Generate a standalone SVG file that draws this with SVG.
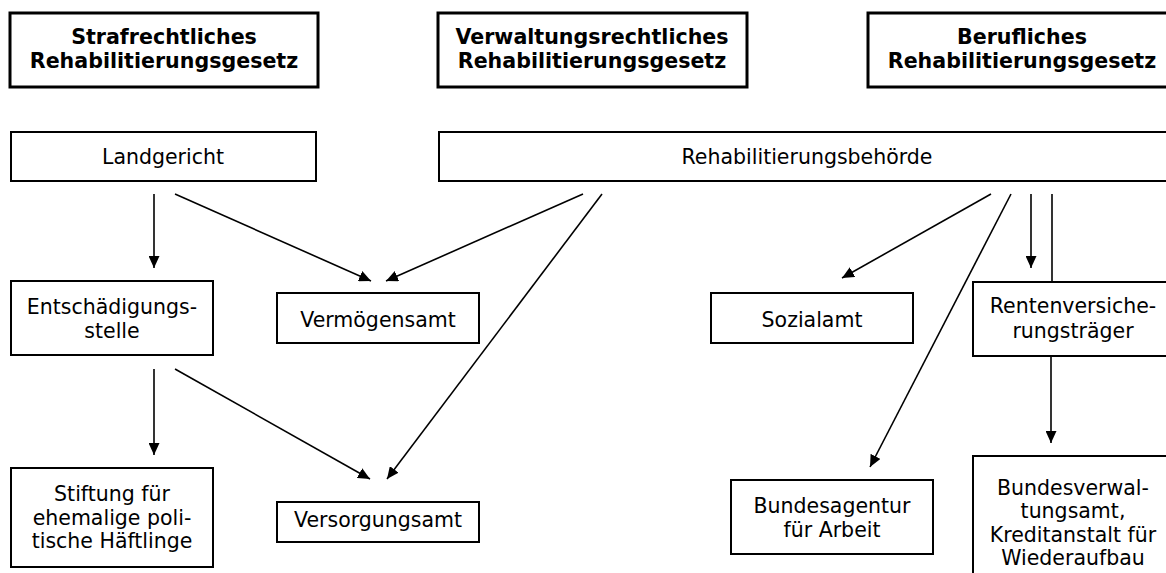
<svg xmlns="http://www.w3.org/2000/svg" width="1166" height="573" viewBox="0 0 1166 573">
<defs>
<marker id="ah" markerUnits="userSpaceOnUse" markerWidth="12" markerHeight="11" refX="12" refY="5.5" orient="auto">
<path d="M0,0 L12,5.5 L0,11 Z" fill="#000"/>
</marker>
<style>
.hb{fill:#fff;stroke:#000;stroke-width:3}
.nb{fill:#fff;stroke:#000;stroke-width:2}
.ht{font-family:"DejaVu Sans","Verdana",sans-serif;font-weight:bold;font-size:20.6px;text-anchor:middle;fill:#000}
.t{font-family:"DejaVu Sans","Verdana",sans-serif;font-size:20.5px;text-anchor:middle;fill:#000}
.c{stroke:#000;stroke-width:1.6;fill:none}
.a{marker-end:url(#ah)}
</style>
</defs>
<rect width="1166" height="573" fill="#fff"/>
<g id="h1"><rect class="hb" x="10" y="13" width="308" height="74"/><text class="ht" x="164" y="44">Strafrechtliches</text><text class="ht" x="164" y="68">Rehabilitierungsgesetz</text></g>
<g id="h2"><rect class="hb" x="438" y="13" width="309" height="74"/><text class="ht" x="592" y="44">Verwaltungsrechtliches</text><text class="ht" x="592" y="68">Rehabilitierungsgesetz</text></g>
<g id="h3"><rect class="hb" x="868" y="13" width="308" height="74"/><text class="ht" x="1022" y="44">Berufliches</text><text class="ht" x="1022" y="68">Rehabilitierungsgesetz</text></g>
<g id="landgericht"><rect class="nb" x="11" y="132" width="305" height="49"/><text class="t" x="163" y="164">Landgericht</text></g>
<g id="rehabehoerde"><rect class="nb" x="439" y="132" width="737" height="49"/><text class="t" x="807" y="164">Rehabilitierungsbehörde</text></g>
<g id="entschaedigung"><rect class="nb" x="11" y="281" width="202" height="74"/><text class="t" x="112" y="314">Entschädigungs-</text><text class="t" x="112" y="338">stelle</text></g>
<g id="vermoegensamt"><rect class="nb" x="277" y="293" width="202" height="50"/><text class="t" x="378" y="327">Vermögensamt</text></g>
<g id="sozialamt"><rect class="nb" x="711" y="293" width="202" height="50"/><text class="t" x="812" y="327">Sozialamt</text></g>
<g id="renten"><rect class="nb" x="973" y="282" width="202" height="74"/><text class="t" x="1073" y="313">Rentenversiche-</text><text class="t" x="1073" y="338">rungsträger</text></g>
<g id="stiftung"><rect class="nb" x="11" y="468" width="202" height="99"/><text class="t" x="112" y="501">Stiftung für</text><text class="t" x="112" y="525">ehemalige poli-</text><text class="t" x="112" y="548">tische Häftlinge</text></g>
<g id="versorgungsamt"><rect class="nb" x="277" y="502" width="202" height="40"/><text class="t" x="378" y="527">Versorgungsamt</text></g>
<g id="bundesagentur"><rect class="nb" x="731" y="480" width="202" height="74"/><text class="t" x="832" y="513">Bundesagentur</text><text class="t" x="832" y="537">für Arbeit</text></g>
<g id="bundesverwaltungsamt"><rect class="nb" x="973" y="456" width="202" height="130"/><text class="t" x="1073" y="495">Bundesverwal-</text><text class="t" x="1073" y="518">tungsamt,</text><text class="t" x="1073" y="542">Kreditanstalt für</text><text class="t" x="1073" y="565">Wiederaufbau</text></g>
<g id="connectors">
<line class="c a" x1="154" y1="194" x2="154" y2="268"/>
<line class="c a" x1="175" y1="194" x2="371" y2="281"/>
<line class="c a" x1="583" y1="194" x2="386" y2="281"/>
<line class="c a" x1="602" y1="194" x2="387" y2="479"/>
<line class="c a" x1="154" y1="369" x2="154" y2="455"/>
<line class="c a" x1="175" y1="369" x2="370" y2="479"/>
<line class="c a" x1="991" y1="194" x2="842" y2="278"/>
<line class="c a" x1="1011" y1="194" x2="870" y2="467"/>
<line class="c a" x1="1031" y1="194" x2="1031" y2="268"/>
<line class="c" x1="1052" y1="194" x2="1052" y2="282"/>
<line class="c a" x1="1051" y1="356" x2="1051" y2="443"/>
</g>
</svg>
